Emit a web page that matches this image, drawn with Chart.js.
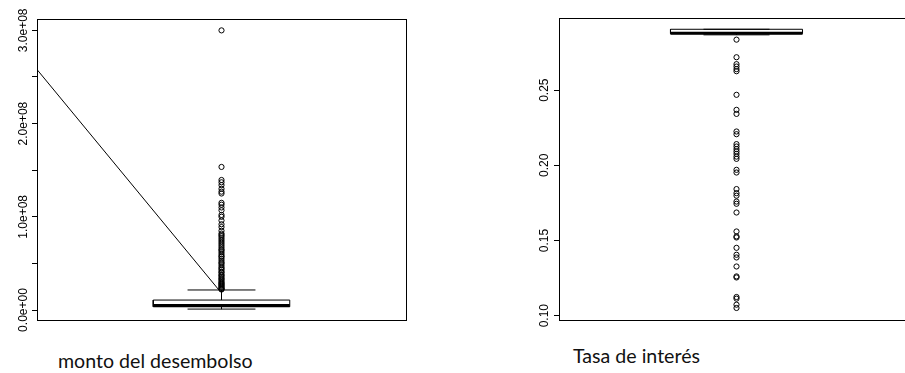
<!DOCTYPE html>
<html>
<head>
<meta charset="utf-8">
<script src="https://cdn.jsdelivr.net/npm/chart.js@4.4.1/dist/chart.umd.min.js"></script>
<style>
  body { margin: 0; width: 905px; height: 373px; overflow: hidden; background: #fff; position: relative; }
  #graficoMonto { position: absolute; left: 0; top: 0; }
  #graficoTasa { position: absolute; left: 480px; top: 0; }
  .titulo { position: absolute; font-family: Lato, sans-serif; font-size: 19.6px; line-height: 20px; color: #111; white-space: nowrap; }
</style>
</head>
<body>
<canvas id="graficoMonto" width="420" height="333"></canvas>
<canvas id="graficoTasa" width="440" height="333"></canvas>
<div class="titulo" style="left:58px; top:351px;">monto del desembolso</div>
<div class="titulo" style="left:573px; top:346px;">Tasa de interés</div>

<script>
// ---- Datos: monto del desembolso ----
// resumen de la caja: minimo, q1, mediana, q3, maximo del bigote
var montoCaja = [1.0e6, 3.5e6, 4.8e6, 1.07e7, 2.15e7];
// valores atipicos
var montoAtipicos = [
  2.2e7, 2.25e7, 2.3e7, 2.4e7, 2.5e7, 2.6e7, 2.7e7, 2.8e7, 2.9e7, 3.0e7,
  3.15e7, 3.3e7, 3.4e7, 3.55e7, 3.7e7, 3.8e7, 4.0e7, 4.1e7, 4.3e7, 4.45e7,
  4.6e7, 4.8e7, 5.0e7, 5.1e7, 5.3e7, 5.5e7, 5.7e7, 5.8e7, 6.0e7, 6.2e7,
  6.4e7, 6.5e7, 6.7e7, 6.9e7, 7.1e7, 7.3e7, 7.5e7, 7.7e7, 7.9e7, 8.05e7,
  8.2e7, 8.5e7, 8.9e7, 9.2e7, 9.6e7, 1.0e8, 1.02e8, 1.07e8, 1.1e8, 1.13e8,
  1.15e8, 1.25e8, 1.27e8, 1.3e8, 1.34e8, 1.37e8, 1.395e8, 1.535e8, 3.0e8
];
// recta que cruza el grafico (desde el borde izquierdo hasta el bigote)
var montoRectaX = [0.5, 0.993];
var montoRectaY = [2.58e8, 2.15e7];
var montoTicks = [0, 5e7, 1e8, 1.5e8, 2e8, 2.5e8, 3e8];
var montoEtiquetas = ["0.0e+00", "", "1.0e+08", "", "2.0e+08", "", "3.0e+08"];
var montoRango = [-1.07e7, 3.122e8];

// ---- Datos: tasa de interes ----
var tasaCaja = [0.2868, 0.2876, 0.2879, 0.2905, 0.2905];
var tasaAtipicos = [
  0.2836, 0.2719, 0.2673, 0.2657, 0.2640, 0.2626, 0.2469, 0.2369, 0.2342,
  0.2225, 0.2207, 0.2141, 0.2125, 0.2108, 0.2092, 0.2076, 0.2058, 0.2043,
  0.1970, 0.1952, 0.1842, 0.1815, 0.1798, 0.1759, 0.1744, 0.1686, 0.1560,
  0.1527, 0.1520, 0.1451, 0.1405, 0.1387, 0.1327, 0.1261, 0.1254, 0.1124,
  0.1113, 0.1073, 0.1051
];
var tasaTicks = [0.10, 0.15, 0.20, 0.25];
var tasaEtiquetas = ["0.10", "0.15", "0.20", "0.25"];
var tasaRango = [0.0971, 0.2980];

// Plugin: dibuja el marco (box) y las etiquetas verticales del eje Y estilo R
var marcoPlugin = {
  id: "marco",
  afterDraw: function(chart, args, opts) {
    var ctx = chart.ctx;
    var a = chart.chartArea;
    var escalaY = chart.scales.y;
    ctx.save();
    ctx.strokeStyle = "#000";
    ctx.lineWidth = 1;
    ctx.strokeRect(Math.round(a.left) + 0.5, Math.round(a.top) + 0.5, Math.round(a.right - a.left), Math.round(a.bottom - a.top));

    ctx.fillStyle = "#000";
    ctx.font = '12px "Liberation Sans", Arial, sans-serif';
    ctx.textAlign = "center";
    ctx.textBaseline = "alphabetic";
    opts.valores.forEach(function(v, i) {
      if (!opts.etiquetas[i]) return;
      var py = escalaY.getPixelForValue(v);
      ctx.save();
      ctx.translate(a.left - opts.separacion, py);
      ctx.rotate(-Math.PI / 2);
      ctx.fillText(opts.etiquetas[i], 0, 0);
      ctx.restore();
    });
    ctx.restore();
  }
};

// Linea simple (sin puntos) a partir de pares x / y
function linea(xs, ys, ancho, guiones) {
  var puntos = xs.map(function(x, i) { return { x: x, y: ys[i] }; });
  return {
    data: puntos,
    showLine: true,
    borderColor: "#000",
    borderWidth: ancho,
    borderDash: guiones || [],
    pointRadius: 0,
    fill: false,
    tension: 0
  };
}

// Arma los datasets de un boxplot (caja, mediana, bigotes, atipicos)
function boxplot(caja, atipicos, mitadCaja, mitadBigote) {
  var min = caja[0], q1 = caja[1], med = caja[2], q3 = caja[3], max = caja[4];
  var izq = 1 - mitadCaja, der = 1 + mitadCaja;
  return [
    linea([izq, der, der, izq, izq], [q1, q1, q3, q3, q1], 1),
    linea([izq, der], [med, med], 3),
    linea([1, 1], [q3, max], 1),
    linea([1, 1], [q1, min], 1),
    linea([1 - mitadBigote, 1 + mitadBigote], [max, max], 1),
    linea([1 - mitadBigote, 1 + mitadBigote], [min, min], 1),
    {
      data: atipicos.map(function(v) { return { x: 1, y: v }; }),
      showLine: false,
      pointStyle: "circle",
      pointRadius: 2.6,
      pointBorderWidth: 1,
      pointBackgroundColor: "rgba(0,0,0,0)",
      pointBorderColor: "#000"
    }
  ];
}

// Opciones comunes de los dos graficos
function opciones(rango, ticks, etiquetas, anchoEje, padding, separacion) {
  return {
    responsive: false,
    animation: false,
    events: [],
    layout: { padding: padding },
    plugins: {
      legend: { display: false },
      tooltip: { enabled: false },
      marco: { valores: ticks, etiquetas: etiquetas, separacion: separacion }
    },
    scales: {
      x: { type: "linear", min: 0.5, max: 1.5, display: false },
      y: {
        type: "linear",
        min: rango[0],
        max: rango[1],
        afterBuildTicks: function(s) { s.ticks = ticks.map(function(v) { return { value: v }; }); },
        afterFit: function(s) { s.width = anchoEje; },
        ticks: { display: false },
        grid: { drawOnChartArea: false, drawTicks: true, tickLength: 5, color: "#000", lineWidth: 1 },
        border: { display: false }
      }
    }
  };
}

// Grafico 1: monto del desembolso
var datosMonto = boxplot(montoCaja, montoAtipicos, 0.185, 0.092);
datosMonto.push(linea(montoRectaX, montoRectaY, 1));
new Chart(document.getElementById("graficoMonto"), {
  type: "scatter",
  data: { datasets: datosMonto },
  options: opciones(montoRango, montoTicks, montoEtiquetas, 37, { top: 19, right: 14, bottom: 13, left: 0 }, 10),
  plugins: [marcoPlugin]
});

// Grafico 2: tasa de interes
new Chart(document.getElementById("graficoTasa"), {
  type: "scatter",
  data: { datasets: boxplot(tasaCaja, tasaAtipicos, 0.186, 0.093) },
  options: opciones(tasaRango, tasaTicks, tasaEtiquetas, 79, { top: 18, right: 6, bottom: 13, left: 0 }, 11),
  plugins: [marcoPlugin]
});
</script>
</body>
</html>
